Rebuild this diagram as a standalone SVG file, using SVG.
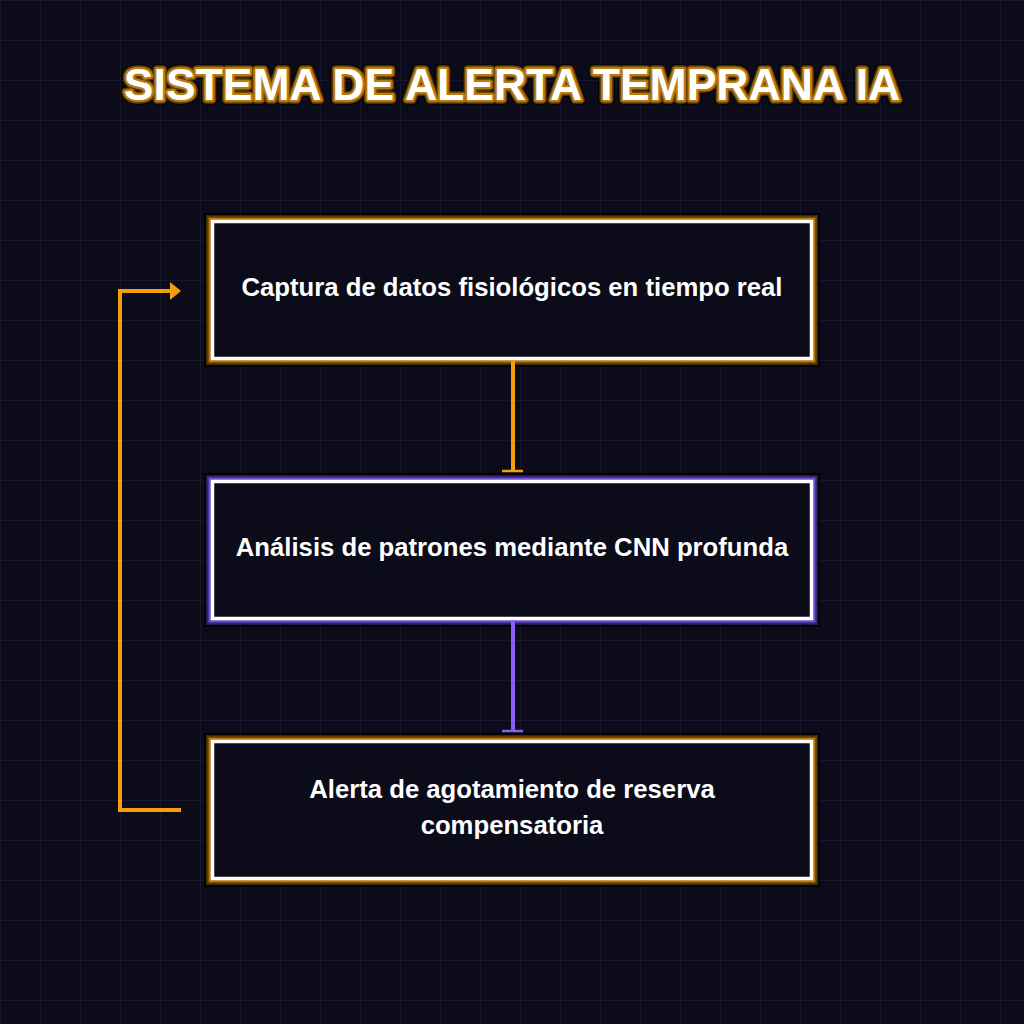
<svg xmlns="http://www.w3.org/2000/svg" width="1024" height="1024" viewBox="0 0 1024 1024">
  <defs>
    <pattern id="grid" width="40" height="40" patternUnits="userSpaceOnUse">
      <path d="M40 0 L0 0 L0 40" fill="none" stroke="#1b1b33" stroke-width="1.5"/>
    </pattern>
    <style>
      .bx { fill: none; }
      .l0 { stroke: #000000; stroke-width: 17; stroke-opacity: 0.8; }
      .o1 { stroke: #3f2804; stroke-width: 13; }
      .o2 { stroke: #7a4e06; stroke-width: 10; }
      .o3 { stroke: #bd7a0b; stroke-width: 7; }
      .p1 { stroke: #25184f; stroke-width: 13; }
      .p2 { stroke: #46309a; stroke-width: 10; }
      .p3 { stroke: #7050d0; stroke-width: 7; }
      .w { stroke: #ffffff; stroke-width: 3.5; fill: #0b0b1a; }
      .lbl { font-family: "Liberation Sans", Arial, sans-serif; font-weight: bold; font-size: 25.7px; fill: #ffffff; text-anchor: middle; }
      .title { font-family: "Liberation Sans", Arial, sans-serif; font-weight: bold; font-size: 44.5px; text-anchor: middle; stroke-linejoin: round; }
      .cn-o { stroke: #f59e0b; stroke-width: 4; fill: none; }
      .cn-p { stroke: #8b5cf6; stroke-width: 4; fill: none; }
    </style>
  </defs>
  <rect width="1024" height="1024" fill="#0b0b1a"/>
  <rect width="1024" height="1024" fill="url(#grid)"/>

  <g id="title">
    <text class="title" x="512" y="100" fill="none" stroke="#000000" stroke-width="10" stroke-opacity="0.7">SISTEMA DE ALERTA TEMPRANA IA</text>
    <text class="title" x="512" y="100" fill="none" stroke="#5a3a06" stroke-width="7.5">SISTEMA DE ALERTA TEMPRANA IA</text>
    <text class="title" x="512" y="100" fill="none" stroke="#b97a0e" stroke-width="4.5">SISTEMA DE ALERTA TEMPRANA IA</text>
    <text class="title" x="512" y="100" fill="#ffffff">SISTEMA DE ALERTA TEMPRANA IA</text>
  </g>

  <g id="node1">
    <rect class="bx l0" x="212.5" y="221.5" width="599" height="137"/>
    <rect class="bx o1" x="212.5" y="221.5" width="599" height="137"/>
    <rect class="bx o2" x="212.5" y="221.5" width="599" height="137"/>
    <rect class="bx o3" x="212.5" y="221.5" width="599" height="137"/>
    <rect class="w" x="212.5" y="221.5" width="599" height="137"/>
    <text class="lbl" x="512" y="296">Captura de datos fisiológicos en tiempo real</text>
  </g>

  <g id="node2">
    <rect class="bx l0" x="212.5" y="481.5" width="599" height="137"/>
    <rect class="bx p1" x="212.5" y="481.5" width="599" height="137"/>
    <rect class="bx p2" x="212.5" y="481.5" width="599" height="137"/>
    <rect class="bx p3" x="212.5" y="481.5" width="599" height="137"/>
    <rect class="w" x="212.5" y="481.5" width="599" height="137"/>
    <text class="lbl" x="512" y="556">Análisis de patrones mediante CNN profunda</text>
  </g>

  <g id="node3">
    <rect class="bx l0" x="212.5" y="741.5" width="599" height="137"/>
    <rect class="bx o1" x="212.5" y="741.5" width="599" height="137"/>
    <rect class="bx o2" x="212.5" y="741.5" width="599" height="137"/>
    <rect class="bx o3" x="212.5" y="741.5" width="599" height="137"/>
    <rect class="w" x="212.5" y="741.5" width="599" height="137"/>
    <text class="lbl" x="512" y="798">Alerta de agotamiento de reserva</text>
    <text class="lbl" x="512" y="834">compensatoria</text>
  </g>

  <g id="connectors">
    <line class="cn-o" x1="513" y1="360" x2="513" y2="471"/>
    <line x1="502" y1="471" x2="523" y2="471" stroke="#f59e0b" stroke-width="2.5"/>
    <line class="cn-p" x1="513" y1="620" x2="513" y2="731"/>
    <line x1="502" y1="731" x2="523" y2="731" stroke="#8b5cf6" stroke-width="2.5"/>
    <polyline class="cn-o" points="181,810 120,810 120,291 172,291"/>
    <polygon points="170,282 181,291 170,300" fill="#f59e0b"/>
  </g>
</svg>
